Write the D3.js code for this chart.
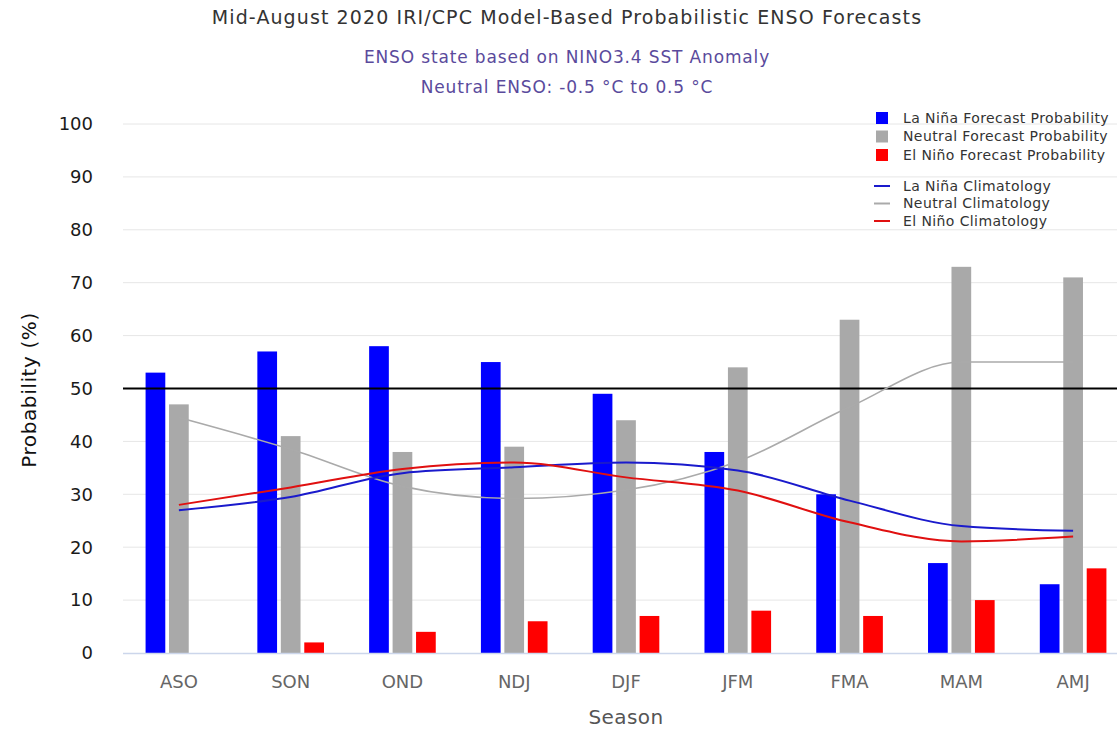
<!DOCTYPE html>
<html><head><meta charset="utf-8">
<script src="https://cdn.jsdelivr.net/npm/d3@7"></script>
<style>body{margin:0;background:#fff;}svg{display:block;font-family:"DejaVu Sans",sans-serif;}</style>
</head><body>
<svg id="c" width="1117" height="731"></svg>
<script>
const seasons = ["ASO","SON","OND","NDJ","DJF","JFM","FMA","MAM","AMJ"];
const laNina  = [53,57,58,55,49,38,30,17,13];
const neutral = [47,41,38,39,44,54,63,73,71];
const elNino  = [0,2,4,6,7,8,7,10,16];
const laNinaClim  = [27,29.5,34,35.1,36,34.5,28.8,24,23.1];
const neutralClim = [44.5,38.5,31.5,29.2,30.8,36.2,46.5,55,55];
const elNinoClim  = [28,31.3,34.8,36,33.2,30.7,24.7,21.1,22];
const yTicks = [0,10,20,30,40,50,60,70,80,90,100];
const seriesNames = ["La Niña Forecast Probability","Neutral Forecast Probability","El Niño Forecast Probability"];
const climNames = ["La Niña Climatology","Neutral Climatology","El Niño Climatology"];
const barColors = ["#0000ff","#a9a9a9","#ff0000"];
const climColors = ["#1a1acc","#aaaaaa","#e01010"];

const svg = d3.select("#c");
const y = d3.scaleLinear().domain([0,100]).range([653,124]);
const x0 = d3.scaleBand().domain(seasons).range([123,1129]).paddingInner(0.404).paddingOuter(0.202);
const x1 = d3.scaleBand().domain([0,1,2]).range([0,x0.bandwidth()]).paddingInner(0.16);

// gridlines
svg.append("g").selectAll("line").data(yTicks.filter(d=>d>0)).join("line")
  .attr("x1",123).attr("x2",1117).attr("y1",d=>y(d)).attr("y2",d=>y(d))
  .attr("stroke","#e6e6e6").attr("stroke-width",1);
// y tick labels
svg.append("g").selectAll("text").data(yTicks).join("text")
  .attr("x",93).attr("y",d=>y(d)).attr("dy","0.35em").attr("text-anchor","end")
  .attr("font-size",18).attr("fill","#1a1a1a").text(d=>d);

// bars
const all = [laNina, neutral, elNino];
all.forEach((arr,si)=>{
  svg.append("g").selectAll("rect").data(arr).join("rect")
    .attr("x",(d,i)=>x0(seasons[i])+x1(si)).attr("width",x1.bandwidth())
    .attr("y",d=>y(d)).attr("height",d=>y(0)-y(d))
    .attr("fill",barColors[si]);
});

// 50% line
svg.append("line").attr("x1",123).attr("x2",1117).attr("y1",y(50)).attr("y2",y(50))
  .attr("stroke","#000").attr("stroke-width",2);
// x axis line
svg.append("line").attr("x1",123).attr("x2",1117).attr("y1",y(0)+0.5).attr("y2",y(0)+0.5)
  .attr("stroke","#ccd6eb").attr("stroke-width",1.5);

// climatology lines
const line = d3.line().x((d,i)=>x0(seasons[i])+x0.bandwidth()/2).y(d=>y(d)).curve(d3.curveMonotoneX);
[neutralClim, laNinaClim, elNinoClim].forEach((arr,k)=>{
  const ci = [1,0,2][k];
  svg.append("path").attr("d",line(arr)).attr("fill","none")
    .attr("stroke",climColors[ci]).attr("stroke-width",ci===1?1.6:2);
});

// x labels
svg.append("g").selectAll("text").data(seasons).join("text")
  .attr("x",d=>x0(d)+x0.bandwidth()/2).attr("y",688).attr("text-anchor","middle")
  .attr("font-size",18).attr("fill","#666").text(d=>d);

// axis titles
svg.append("text").attr("x",626).attr("y",724).attr("text-anchor","middle")
  .attr("font-size",20).attr("fill","#555").attr("letter-spacing",0.4).text("Season");
svg.append("text").attr("transform","translate(36,390) rotate(-90)").attr("text-anchor","middle")
  .attr("font-size",20).attr("fill","#111").attr("letter-spacing",0.6).text("Probability (%)");

// titles
svg.append("text").attr("x",567).attr("y",24).attr("text-anchor","middle")
  .attr("font-size",19).attr("letter-spacing",1.1).attr("fill","#333").text("Mid-August 2020 IRI/CPC Model-Based Probabilistic ENSO Forecasts");
svg.append("text").attr("x",567).attr("y",63).attr("text-anchor","middle")
  .attr("font-size",17).attr("letter-spacing",0.85).attr("fill","#5a4a9c").text("ENSO state based on NINO3.4 SST Anomaly");
svg.append("text").attr("x",567).attr("y",93).attr("text-anchor","middle")
  .attr("font-size",17).attr("letter-spacing",0.85).attr("fill","#5a4a9c").text("Neutral ENSO: -0.5 °C to 0.5 °C");

// legend
const lg = svg.append("g");
seriesNames.forEach((n,i)=>{
  const yy = 118 + i*18.5;
  lg.append("rect").attr("x",876).attr("y",yy-6).attr("width",12).attr("height",12).attr("fill",barColors[i]);
  lg.append("text").attr("x",903).attr("y",yy).attr("dy","0.35em").attr("font-size",14).attr("letter-spacing",0.4).attr("fill","#333").text(n);
});
climNames.forEach((n,i)=>{
  const yy = 186 + i*17.5;
  lg.append("line").attr("x1",874).attr("x2",890).attr("y1",yy).attr("y2",yy).attr("stroke",climColors[i]).attr("stroke-width",2);
  lg.append("text").attr("x",903).attr("y",yy).attr("dy","0.35em").attr("font-size",14).attr("letter-spacing",0.4).attr("fill","#333").text(n);
});
</script>
</body></html>
